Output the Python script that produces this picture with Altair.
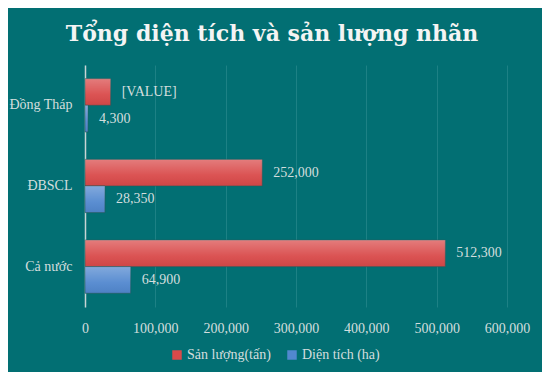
import altair as alt
import pandas as pd

regions = ["Đồng Tháp", "ĐBSCL", "Cả nước"]
series_names = ["Sản lượng(tấn)", "Diện tích (ha)"]
san_luong = [36500, 252000, 512300]
san_luong_labels = ["[VALUE]", "252,000", "512,300"]
dien_tich = [4300, 28350, 64900]
dien_tich_labels = ["4,300", "28,350", "64,900"]
x_ticks = [0, 100000, 200000, 300000, 400000, 500000, 600000]

rows = []
for i, r in enumerate(regions):
    rows.append({"region": r, "series": series_names[0], "value": san_luong[i], "label": san_luong_labels[i]})
    rows.append({"region": r, "series": series_names[1], "value": dien_tich[i], "label": dien_tich_labels[i]})
df = pd.DataFrame(rows)

BG = "#026f73"
TXT = "#d3dede"
FONT = "Liberation Serif"

y_enc = alt.Y("region:N", sort=regions, title=None,
              scale=alt.Scale(paddingInner=0.34, paddingOuter=0.17),
              axis=alt.Axis(domain=True, domainColor="#c8d4d4", domainWidth=1.5, ticks=False,
                            labelPadding=13, labelFont=FONT, labelFontSize=14, labelColor=TXT,
                            grid=False))
yoff = alt.YOffset("series:N", sort=series_names)
x_enc = alt.X("value:Q", title=None, scale=alt.Scale(domain=[0, 600000], nice=False),
              axis=alt.Axis(values=x_ticks, labelExpr="format(datum.value, ',')",
                            labelFlush=False, domain=False, ticks=False,
                            labelPadding=14, labelFont=FONT, labelFontSize=14, labelColor=TXT,
                            grid=True, gridColor="#1d8185", gridWidth=1))

base = alt.Chart(df)

bars = base.mark_bar(stroke="#2a5a5c", strokeWidth=0.6).encode(
    y=y_enc, yOffset=yoff, x=x_enc,
    color=alt.Color("series:N", sort=series_names,
                    scale=alt.Scale(domain=series_names, range=["#d94a4a", "#5288cf"]),
                    legend=alt.Legend(title=None, orient="none", direction="horizontal",
                                      legendX=85, legendY=283, symbolType="square",
                                      symbolSize=90, symbolStrokeWidth=0,
                                      labelFont=FONT, labelFontSize=14, labelColor=TXT,
                                      columnPadding=14, labelOffset=3)),
)

shine = base.mark_bar(color=alt.Gradient(
    gradient="linear", x1=0, y1=0, x2=0, y2=1,
    stops=[alt.GradientStop(offset=0, color="rgba(255,255,255,0.28)"),
           alt.GradientStop(offset=0.6, color="rgba(255,255,255,0.05)"),
           alt.GradientStop(offset=1, color="rgba(0,0,0,0.05)")])).encode(
    y=y_enc, yOffset=yoff, x=x_enc)

labels = base.mark_text(align="left", baseline="middle", dx=11, font=FONT,
                        fontSize=14, color=TXT).encode(
    y=y_enc, yOffset=yoff, x=x_enc, text="label:N")

chart = alt.layer(bars, shine, labels).properties(
    width=422, height=242,
    title=alt.Title("Tổng diện tích và sản lượng nhãn", font="DejaVu Serif",
                    fontSize=22, fontWeight="bold", color="#f4f4f4",
                    anchor="middle", frame="group", dx=-24, offset=19),
    autosize=alt.AutoSizeParams(type="none"),
    padding={"left": 77, "top": 57, "right": 35, "bottom": 65},
    background=BG,
).configure_view(stroke=None)

chart.save("out.html", embed_options={"renderer": "svg", "actions": False})
